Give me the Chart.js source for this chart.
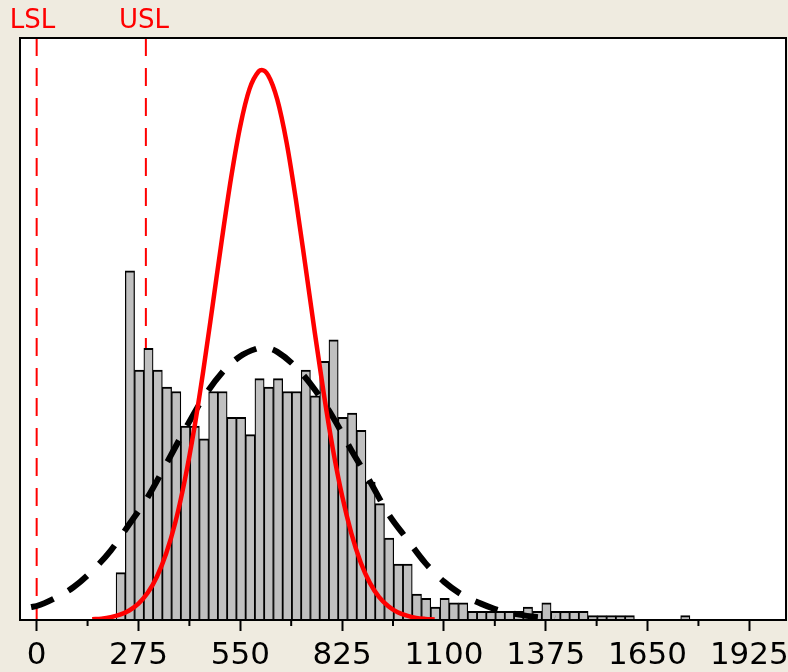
<!DOCTYPE html>
<html><head><meta charset="utf-8">
<script src="https://cdn.jsdelivr.net/npm/chart.js@4.4.1/dist/chart.umd.min.js"></script>
<style>html,body{margin:0;padding:0;background:#EFEBE0;} canvas{display:block;}</style>
</head><body>
<canvas id="c" width="788" height="672"></canvas>
<script>
// Histogram bins (bin centres, width 25) and counts
const binCenters = [227,252,277,302,327,352,377,402,427,452,477,502,527,552,577,602,627,652,677,702,727,752,777,802,827,852,877,902,927,952,977,1002,1027,1052,1077,1102,1127,1152,1177,1202,1227,1252,1277,1302,1327,1352,1377,1402,1427,1452,1477,1502,1527,1552,1577,1602,1752];
const binCounts  = [11,81,58,63,58,54,53,45,45,42,53,53,47,47,43,56,54,56,53,53,58,52,60,65,47,48,44,32,27,19,13,13,6,5,3,5,4,4,2,2,2,2,2,2,3,2,4,2,2,2,2,1,1,1,1,1,1];

// Within (red) curve
const withinX = [150,175,200,225,250,275,300,325,350,375,400,425,450,475,500,525,550,575,600,608,625,650,675,700,725,750,775,800,825,850,875,900,925,950,975,1000,1025,1050,1075];
const withinY = [0.16,0.32,0.65,1.23,2.2,3.8,6.3,10.1,15.5,22.8,32.4,44.1,57.8,72.8,88.1,102.5,114.6,123.2,127.3,127.6,126.4,120.7,110.8,97.6,82.7,67.4,52.8,39.7,28.8,20.1,13.4,8.6,5.3,3.2,1.8,1.0,0.5,0.26,0.12];

// Overall (black dashed) curve
const overallX = [-15,0,50,100,150,200,250,300,350,400,450,500,550,600,612,625,650,700,750,800,850,900,950,1000,1050,1100,1150,1200,1250,1300,1350,1400];
const overallY = [3.0,3.25,5.1,7.65,11.4,16.1,22.2,28.5,36.2,44.1,51.5,57.3,61.2,63.1,63.3,63.1,62.2,58.7,53.6,47.1,39.4,32.2,24.6,18.8,13.2,8.9,5.8,3.8,2.2,1.3,0.7,0.37];

// Axis ticks and spec limits
const tickLabels = [0,275,550,825,1100,1375,1650,1925];
const minorTicks = [137.5,412.5,687.5,962.5,1237.5,1512.5,1787.5];
const specNames  = ['LSL','USL'];
const specValues = [0,295];
const xMin = -45, xMax = 2024, yMax = 135;

const BG = '#EFEBE0';

const decor = {
  id: 'decor',
  beforeDraw(chart) {
    const {ctx, chartArea: a} = chart;
    ctx.save();
    ctx.fillStyle = BG;
    ctx.fillRect(0, 0, chart.width, chart.height);
    ctx.fillStyle = '#FFFFFF';
    ctx.fillRect(a.left, a.top, a.right - a.left, a.bottom - a.top);
    ctx.restore();
  },
  afterDraw(chart) {
    const {ctx, chartArea: a} = chart;
    const x = chart.scales.x;
    ctx.save();
    ctx.strokeStyle = '#000';
    ctx.lineWidth = 2;
    ctx.strokeRect(a.left, a.top, a.right - a.left, a.bottom - a.top);
    ctx.beginPath();
    minorTicks.forEach(v => {
      const px = x.getPixelForValue(v);
      ctx.moveTo(px, a.bottom);
      ctx.lineTo(px, a.bottom + 6);
    });
    ctx.stroke();
    ctx.fillStyle = '#FF0000';
    ctx.font = '26px "DejaVu Sans"';
    ctx.textAlign = 'left';
    ctx.textBaseline = 'alphabetic';
    specNames.forEach((n, i) => {
      ctx.fillText(n, x.getPixelForValue(specValues[i]) - 27, 28);
    });
    ctx.restore();
  }
};

const specDatasets = specValues.map((v, i) => ({
  type: 'line',
  label: specNames[i],
  data: [{x: v, y: yMax}, {x: v, y: 0}],
  borderColor: '#FF0000',
  borderWidth: 2,
  borderDash: [18, 12],
  pointRadius: 0,
  fill: false,
  order: 3
}));

new Chart(document.getElementById('c'), {
  type: 'bar',
  data: {
    datasets: [
      {
        type: 'line', label: 'Within',
        data: withinX.map((v, i) => ({x: v, y: withinY[i]})),
        borderColor: '#FF0000', borderWidth: 4.5, pointRadius: 0,
        cubicInterpolationMode: 'monotone', fill: false, order: 0
      },
      {
        type: 'line', label: 'Overall',
        data: overallX.map((v, i) => ({x: v, y: overallY[i]})),
        borderColor: '#000000', borderWidth: 6, borderDash: [24, 17], pointRadius: 0,
        cubicInterpolationMode: 'monotone', fill: false, order: 1
      },
      {
        type: 'bar', label: 'Frequency',
        data: binCenters.map((v, i) => ({x: v, y: binCounts[i]})),
        backgroundColor: '#C0C0C0', borderColor: '#000000',
        borderWidth: {top: 2, left: 1.25, right: 1.25, bottom: 0},
        borderSkipped: false,
        barPercentage: 1, categoryPercentage: 1, order: 2
      },
      ...specDatasets
    ]
  },
  options: {
    responsive: false,
    animation: false,
    layout: {padding: {left: 20, right: 2, top: 38, bottom: 0}},
    plugins: {legend: {display: false}, tooltip: {enabled: false}},
    scales: {
      x: {
        type: 'linear', min: xMin, max: xMax, offset: false,
        grid: {display: true, offset: false, drawOnChartArea: false, drawTicks: true,
               tickLength: 11, tickWidth: 2, tickColor: '#000'},
        border: {display: true, color: '#000', width: 2},
        afterBuildTicks: s => { s.ticks = tickLabels.map(v => ({value: v})); },
        afterFit: s => { s.height = 52; s.paddingLeft = 0; s.paddingRight = 0; },
        ticks: {autoSkip: false, maxRotation: 0, minRotation: 0, padding: 6,
                color: '#000', font: {family: 'DejaVu Sans', size: 31},
                callback: v => String(v)}
      },
      y: {type: 'linear', min: 0, max: yMax, display: false}
    }
  },
  plugins: [decor]
});
</script>
</body></html>
